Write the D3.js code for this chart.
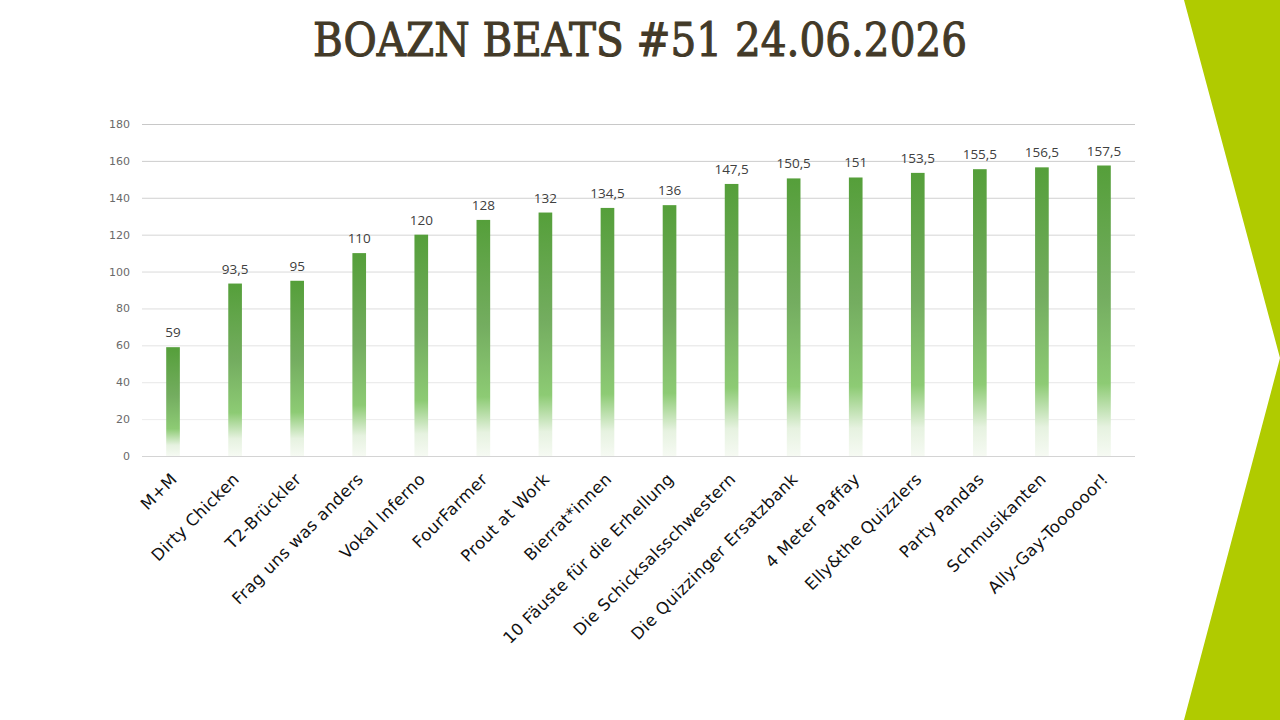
<!DOCTYPE html>
<html lang="de">
  <head>
    <meta charset="UTF-8" />
    <title>Boazn Beats #51</title>
    <script src="https://cdn.jsdelivr.net/npm/d3@7"></script>
    <style>
      body { margin: 0; background: #fff; }
      svg { display: block; }
    </style>
  </head>
  <body>
    <svg width="1280" height="720"></svg>

    <script>
      var teams = [
        "M+M", "Dirty Chicken", "T2-Brückler", "Frag uns was anders",
        "Vokal Inferno", "FourFarmer", "Prout at Work", "Bierrat*innen",
        "10 Fäuste für die Erhellung", "Die Schicksalsschwestern",
        "Die Quizzinger Ersatzbank", "4 Meter Paffay", "Elly&the Quizzlers",
        "Party Pandas", "Schmusikanten", "Ally-Gay-Toooooor!"
      ];
      var points = [59, 93.5, 95, 110, 120, 128, 132, 134.5, 136, 147.5,
        150.5, 151, 153.5, 155.5, 156.5, 157.5];
      var yTicks = [0, 20, 40, 60, 80, 100, 120, 140, 160, 180];
      var title = "BOAZN BEATS #51 24.06.2026";

      var svg = d3.select("svg"),
        margin = { top: 124, right: 145, bottom: 264, left: 142 },
        width = +svg.attr("width") - margin.left - margin.right,
        height = +svg.attr("height") - margin.top - margin.bottom;

      var defs = svg.append("defs");

      // bar fill: dark green on top, fading out near the baseline
      var grad = defs.append("linearGradient")
        .attr("id", "barGrad")
        .attr("x1", 0).attr("y1", 0).attr("x2", 0).attr("y2", 1);
      [[0, "#559f3a"], [0.45, "#74ad60"], [0.75, "#8dcb74"],
       [0.9, "#e6f2e0"], [1, "#f6faf3"]].forEach(function (s) {
        grad.append("stop").attr("offset", s[0]).attr("stop-color", s[1]);
      });

      // side decoration
      svg.append("path")
        .attr("d", "M1184,0 L1280,0 L1280,358 Z M1280,358 L1280,720 L1184,720 Z")
        .attr("fill", "#b0cb00");

      svg.append("text")
        .attr("x", 640)
        .attr("y", 56)
        .attr("text-anchor", "middle")
        .attr("textLength", 654)
        .attr("lengthAdjust", "spacingAndGlyphs")
        .style("font-family", "'DejaVu Serif', 'Liberation Serif', serif")
        .style("font-size", "46px")
        .style("fill", "#433a28")
        .style("stroke", "#433a28")
        .style("stroke-width", "1.1px")
        .text(title);

      var x = d3.scaleBand().domain(teams).range([0, width]).paddingInner(0.78).paddingOuter(0.39),
        y = d3.scaleLinear().domain([0, 180]).range([height, 0]);

      var g = svg.append("g")
        .attr("transform", "translate(" + margin.left + "," + margin.top + ")");

      var gridColor = d3.scaleLinear().domain([0, 180]).range(["#f0f0f0", "#c8c8c8"]);

      var yAxis = g.append("g")
        .attr("class", "axis axis--y")
        .call(d3.axisLeft(y).tickValues(yTicks).tickSize(-width).tickPadding(12));
      yAxis.select(".domain").remove();
      yAxis.selectAll(".tick line")
        .attr("stroke", function (d) { return d === 0 ? "#d4d4d4" : gridColor(d); });
      yAxis.selectAll(".tick text")
        .style("font-family", "'DejaVu Sans', sans-serif")
        .style("font-size", "11px")
        .style("fill", "#6a6a6a");

      g.selectAll(".bar")
        .data(points)
        .enter()
        .append("rect")
        .attr("class", "bar")
        .attr("x", function (d, i) { return x(teams[i]); })
        .attr("y", function (d) { return y(d); })
        .attr("width", x.bandwidth())
        .attr("height", function (d) { return height - y(d); })
        .attr("fill", "url(#barGrad)");

      g.selectAll(".val")
        .data(points)
        .enter()
        .append("text")
        .attr("class", "val")
        .attr("x", function (d, i) { return x(teams[i]) + x.bandwidth() / 2; })
        .attr("y", function (d) { return y(d) - 10; })
        .attr("text-anchor", "middle")
        .style("font-family", "'Open Sans', 'Noto Sans', sans-serif")
        .style("font-size", "13.5px")
        .style("fill", "#404040")
        .text(function (d) { return String(d).replace(".", ","); });

      g.selectAll(".cat")
        .data(teams)
        .enter()
        .append("text")
        .attr("class", "cat")
        .attr("transform", function (d) {
          var cx = x(d) + x.bandwidth() / 2 - 3;
          return "translate(" + cx + "," + (height + 16) + ") rotate(-45)";
        })
        .attr("text-anchor", "end")
        .attr("dy", "0.7em")
        .style("font-family", "'DejaVu Sans', sans-serif")
        .style("font-size", "16.5px")
        .style("letter-spacing", "0.4px")
        .style("fill", "#111")
        .text(function (d) { return d; });
    </script>
  </body>
</html>
